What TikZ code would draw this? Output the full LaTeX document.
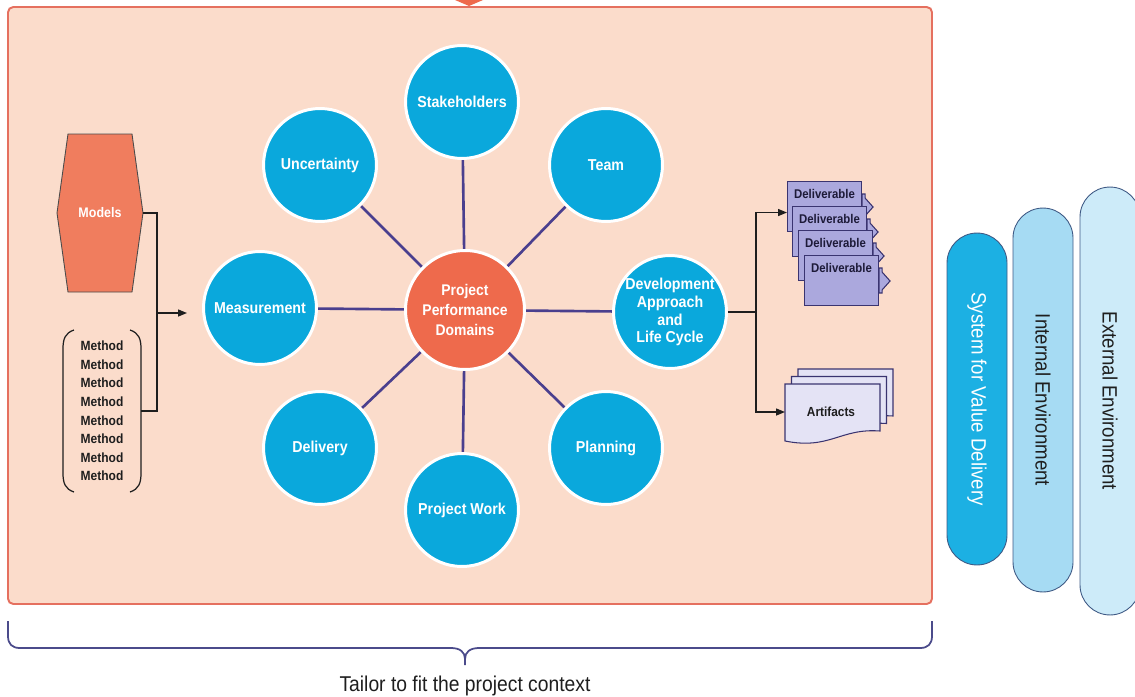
\documentclass[tikz,border=0pt]{standalone}
\usepackage{fontspec}
\setmainfont{Liberation Sans}[FakeStretch=0.9]
\usetikzlibrary{arrows.meta, positioning, calc, backgrounds}
\definecolor{peach}{HTML}{FBDCCB}
\definecolor{framered}{HTML}{E5705F}
\definecolor{hubred}{HTML}{EE6A4C}
\definecolor{domblue}{HTML}{0AA8DC}
\definecolor{spokeblue}{HTML}{4A3F8E}
\definecolor{modelred}{HTML}{F07D5E}
\definecolor{ink}{HTML}{1E1E1E}
\definecolor{delivfill}{HTML}{ABA8DD}
\definecolor{delivdraw}{HTML}{3A3470}
\definecolor{docfill}{HTML}{E4E3F5}
\definecolor{sysblue}{HTML}{1CB0E3}
\definecolor{intblue}{HTML}{A6DBF3}
\definecolor{extblue}{HTML}{CDEBF9}
\definecolor{pilldraw}{HTML}{3F5A85}
\definecolor{bracecol}{HTML}{4B4B8B}
\tikzset{
  frame/.style     = {draw=framered, line width=1.1pt, fill=peach, rounded corners=3pt},
  perfdomain/.style= {circle, fill=domblue, draw=white, line width=1.7pt, minimum size=2.26cm,
                      inner sep=0pt, align=center, text=white,
                      font=\fontsize{9}{10.2}\selectfont\bfseries},
  hub/.style       = {perfdomain, fill=hubred, minimum size=2.38cm,
                      font=\fontsize{8.8}{11.2}\selectfont\bfseries},
  spoke/.style     = {draw=spokeblue, line width=1.5pt},
  link/.style      = {draw=ink, line width=0.8pt},
  linkarrow/.style = {link, -{Triangle[length=1.8mm, width=1.4mm]}},
  modelshape/.style= {fill=modelred, draw=ink!80, line width=0.5pt},
  modeltext/.style = {text=white, font=\fontsize{7.9}{9}\selectfont\bfseries, inner sep=0pt},
  methods/.style   = {align=center, text=ink, inner sep=0pt,
                      font=\fontsize{7.6}{10.6}\selectfont\bfseries},
  paren/.style     = {draw=ink, line width=0.7pt},
  deliv/.style     = {rectangle, draw=delivdraw, fill=delivfill, line width=0.6pt,
                      minimum width=1.48cm, minimum height=1.0cm, inner sep=0pt},
  delivtab/.style  = {draw=delivdraw, fill=delivfill, line width=0.6pt},
  delivtext/.style = {text=delivdraw!50!black, inner sep=0pt,
                      font=\fontsize{7.2}{8}\selectfont\bfseries},
  docshape/.style  = {draw=delivdraw, fill=docfill, line width=0.6pt},
  doctext/.style   = {text=ink, inner sep=0pt, font=\fontsize{7.5}{8}\selectfont\bfseries},
  pill/.style      = {rectangle, rounded corners=0.6cm, minimum height=1.2cm, draw=pilldraw,
                      line width=0.5pt, rotate=-90, inner sep=0pt,
                      font=\fontsize{11.8}{14}\selectfont},
  brace/.style     = {draw=bracecol, line width=1pt},
  caption/.style   = {text=ink, font=\fontsize{12.2}{14}\selectfont},
}

\begin{document}
\begin{tikzpicture}[x=0.02cm, y=-0.02cm]
\useasboundingbox (0,0) rectangle (1135,696);
\clip (0,0) rectangle (1135,696);

% ---- Tailoring frame ----
\begin{scope}[on background layer]
  \draw[frame] (8,7) rectangle (932,604);
\end{scope}
\fill[hubred] (455,0) -- (483,0) -- (469,6) -- cycle;

% ---- Performance domains ----
\node[hub]        (hub)      at (465,310) {Project\\Performance\\Domains};
\node[perfdomain] (stake)    at (462,102) {Stakeholders};
\node[perfdomain] (team)     at (606,165) {Team};
\node[perfdomain] (dev)      at (670,312) {Development\\Approach\\and\\Life Cycle};
\node[perfdomain] (plan)     at (606,448) {Planning};
\node[perfdomain] (work)     at (462,510) {Project Work};
\node[perfdomain] (delivery) at (320,448) {Delivery};
\node[perfdomain] (meas)     at (260,308) {Measurement};
\node[perfdomain] (uncert)   at (320,165) {Uncertainty};

\begin{scope}[on background layer]
  \foreach \d in {stake, team, dev, plan, work, delivery, meas, uncert}
    \draw[spoke] (hub) -- (\d);
\end{scope}

% ---- Models and methods ----
\coordinate (models) at (100,213);
\draw[modelshape] ($(models)+(-32,-79)$) -- ($(models)+(32,-79)$)
  -- ($(models)+(43,0)$) coordinate (modelsE) -- ($(models)+(32,79)$)
  -- ($(models)+(-32,79)$) -- ($(models)+(-43,0)$) -- cycle;
\node[modeltext] (modelslabel) at (models) {Models};

\node[methods] (methods) at (102,411)
  {Method\\Method\\Method\\Method\\Method\\Method\\Method\\Method};
\draw[paren] ($(methods)+(-28,-81)$) .. controls ($(methods)+(-37,-78)$) and ($(methods)+(-39,-72)$)
  .. ($(methods)+(-39,-62)$) -- ($(methods)+(-39,62)$)
  .. controls ($(methods)+(-39,72)$) and ($(methods)+(-37,78)$) .. ($(methods)+(-28,81)$);
\draw[paren] ($(methods)+(28,-81)$) .. controls ($(methods)+(37,-78)$) and ($(methods)+(39,-72)$)
  .. ($(methods)+(39,-62)$) -- ($(methods)+(39,62)$)
  .. controls ($(methods)+(39,72)$) and ($(methods)+(37,78)$) .. ($(methods)+(28,81)$);
\coordinate (methodsE) at ($(methods)+(39,0)$);

\coordinate (join) at (157,313);
\coordinate (inarrow) at (187,313);
\draw[link] (modelsE) -| (join);
\draw[link] (methodsE) -| (join);
\draw[linkarrow] (join) -- (inarrow);

% ---- Outcomes: deliverables and artifacts ----
\foreach \i/\px/\py in {1/787/181, 2/792/206, 3/798/230, 4/804/255} {
  \node[deliv, anchor=north west] (output\i) at (\px,\py) {};
  \draw[delivtab] ($(output\i.north east)+(0,13)$) -- ++(3,0) -- ++(0,4) -- ++(8,9)
    -- ++(-8,9) -- ++(0,3) -- ++(-3,0) -- cycle;
  \node[delivtext, below=1.6mm of output\i.north] (outputtext\i) {Deliverable};
}

\foreach \s in {2,1,0}
  \draw[docshape, shift={(6.5*\s,-7.5*\s)}] (785,384) -- (880,384) -- (880,431)
    .. controls (840,428) and (830,450) .. (785,441) -- cycle;
\node[doctext] (artifacts) at (831,412) {Artifacts};
\coordinate (artW) at (785,412);

\coordinate (split) at (756,312);
\draw[link] (dev) -- (split);
\draw[linkarrow] (split) |- ($(output1.west)+(0,6)$);
\draw[linkarrow] (split) |- (artW);

% ---- Environment pills ----
\node[pill, fill=sysblue, text=white, minimum width=6.64cm] (system) at (977,399)
  {System for Value Delivery};
\node[pill, fill=intblue, text=ink, minimum width=7.68cm] (internal) at (1043,400)
  {Internal Environment};
\node[pill, fill=extblue, text=ink, minimum width=8.56cm] (external) at (1110,401)
  {External Environment};

% ===== Tailoring brace =====
\draw[brace] (8,621) -- (8,636) .. controls (8,644) and (12,648) .. (20,648) -- (451,648)
  .. controls (460,648) and (465,652) .. (465,659) -- (465,665);
\draw[brace] (932,621) -- (932,636) .. controls (932,644) and (928,648) .. (920,648) -- (479,648)
  .. controls (470,648) and (465,652) .. (465,659);
\node[caption] (tailor) at (465,686) {Tailor to fit the project context};

\end{tikzpicture}
\end{document}
